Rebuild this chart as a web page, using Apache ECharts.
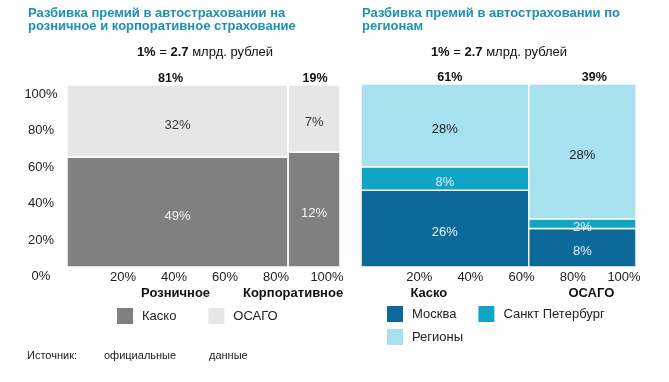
<!DOCTYPE html>
<html><head><meta charset="utf-8">
<script src="https://cdn.jsdelivr.net/npm/echarts@6/dist/echarts.min.js"></script>
<style>html,body{margin:0;padding:0;background:#fff}#c{width:669px;height:382px}</style>
</head><body><div id="c"></div>
<script>
// ---------- DATA ----------
const leftCategories = ['Розничное', 'Корпоративное'];
const leftWidths = [81, 19];
const leftKasko = [49, 12];
const leftOsago = [32, 7];

const rightCategories = ['Каско', 'ОСАГО'];
const rightWidths = [61, 39];
const rightMoscow = [26, 8];
const rightSpb = [8, 2];
const rightRegions = [28, 28];

// ---------- STYLE / LAYOUT ----------
const FONT = "'Liberation Sans', Arial, sans-serif";
const C = {
  kasko: '#808080', osago: '#e6e6e6',
  moscow: '#0b6a99', spb: '#10a5c6', regions: '#a7e1ef',
  title: '#1e90b2'
};
const LAYOUT = {
  left: { catDx: [-2, -21], topDx: [-7, 1] },
  right: { catDx: [-16, 9], topDx: [5, 12] }
};

function buildMekko(widths, stacks) {
  const totalW = widths.reduce((a, b) => a + b, 0);
  const out = stacks.map(() => []);
  let cx = 0;
  widths.forEach((w, i) => {
    const x0 = cx / totalW * 100, x1 = (cx + w) / totalW * 100;
    const colSum = stacks.reduce((a, s) => a + s[i], 0);
    let cy = 0;
    stacks.forEach((s, k) => {
      const y0 = cy / colSum * 100, y1 = (cy + s[i]) / colSum * 100;
      out[k].push([x0, x1, y0, y1, s[i]]);
      cy += s[i];
    });
    cx += w;
  });
  return out;
}
function buildCols(widths) {
  const totalW = widths.reduce((a, b) => a + b, 0);
  let cx = 0;
  return widths.map((w, i) => {
    const r = [cx / totalW * 100, (cx + w) / totalW * 100, w, i];
    cx += w; return r;
  });
}

function rectRender(labelColor) {
  return function (params, api) {
    const p0 = api.coord([api.value(0), api.value(2)]);
    const p1 = api.coord([api.value(1), api.value(3)]);
    const x = p0[0], y = p1[1], w = p1[0] - p0[0], h = p0[1] - p1[1];
    return {
      type: 'group', children: [
        { type: 'rect', shape: { x: x, y: y, width: w, height: h },
          style: { fill: api.visual('color'), stroke: '#ffffff', lineWidth: 1.5 } },
        { type: 'text', x: x + w / 2, y: y + h / 2 + 4,
          style: { text: api.value(4) + '%', fill: labelColor, fontSize: 13, fontFamily: FONT,
                   align: 'center', verticalAlign: 'middle' } }
      ]
    };
  };
}
function colRender(cats, lay) {
  return function (params, api) {
    const i = api.value(3);
    const cx = (api.value(0) + api.value(1)) / 2;
    const top = api.coord([cx, 100]);
    const bot = api.coord([cx, 0]);
    return {
      type: 'group', children: [
        { type: 'text', x: top[0] + lay.topDx[i], y: top[1] - 6,
          style: { text: api.value(2) + '%', fill: '#111', fontSize: 12.5, fontWeight: 'bold', fontFamily: FONT,
                   align: 'center', verticalAlign: 'middle' } },
        { type: 'text', x: bot[0] + lay.catDx[i], y: bot[1] + 26,
          style: { text: cats[i], fill: '#111', fontSize: 13, fontWeight: 'bold', fontFamily: FONT,
                   align: 'center', verticalAlign: 'middle' } }
      ]
    };
  };
}

const L = buildMekko(leftWidths, [leftKasko, leftOsago]);
const R = buildMekko(rightWidths, [rightMoscow, rightSpb, rightRegions]);

const hiddenX = (g) => ({ type: 'value', gridIndex: g, min: 0, max: 100, show: false });
const hiddenY = (g) => ({ type: 'value', gridIndex: g, min: 0, max: 100, show: false });
const labelX = (g) => ({
  type: 'value', gridIndex: g, min: 0, max: 100, interval: 20,
  axisLine: { show: false }, axisTick: { show: false }, splitLine: { show: false },
  axisLabel: { margin: 4, fontSize: 13, color: '#222', fontFamily: FONT,
    formatter: v => (v === 0 ? '' : v + '%') }
});

const encode = { x: [0, 1], y: [2, 3] };
const chart = echarts.init(document.getElementById('c'), null, { renderer: 'canvas' });
chart.setOption({
  animation: false,
  backgroundColor: '#ffffff',
  textStyle: { fontFamily: FONT },
  grid: [
    { left: 67, top: 85, width: 273, height: 182, containLabel: false, outerBoundsMode: 'none' },
    { left: 72, top: 85, width: 255, height: 182, containLabel: false, outerBoundsMode: 'none' },
    { left: 361, top: 84, width: 275, height: 183, containLabel: false, outerBoundsMode: 'none' },
    { left: 368, top: 84, width: 256, height: 183, containLabel: false, outerBoundsMode: 'none' }
  ],
  xAxis: [hiddenX(0), labelX(1), hiddenX(2), labelX(3)],
  yAxis: [
    { type: 'value', gridIndex: 0, min: 0, max: 100, interval: 20,
      axisLine: { show: false }, axisTick: { show: false }, splitLine: { show: false },
      axisLabel: { margin: 26, align: 'center', verticalAlign: 'top', fontSize: 13, color: '#222', fontFamily: FONT,
        padding: [3, 0, 0, 0], formatter: v => v + '%' } },
    hiddenY(1), hiddenY(2), hiddenY(3)
  ],
  legend: [
    { data: ['Каско', 'ОСАГО'], left: 117, top: 308, padding: 0, itemGap: 32, itemWidth: 16, itemHeight: 16,
      icon: 'rect', selectedMode: false, textStyle: { fontSize: 13, color: '#222', fontFamily: FONT, padding: [0, 0, 0, 4] } },
    { data: ['Москва', 'Санкт Петербург'], left: 387, top: 306, padding: 0, itemGap: 22, itemWidth: 16, itemHeight: 16,
      icon: 'rect', selectedMode: false, textStyle: { fontSize: 13, color: '#222', fontFamily: FONT, padding: [0, 0, 0, 4] } },
    { data: ['Регионы'], left: 387, top: 329, padding: 0, itemWidth: 16, itemHeight: 16,
      icon: 'rect', selectedMode: false, textStyle: { fontSize: 13, color: '#222', fontFamily: FONT, padding: [0, 0, 0, 4] } }
  ],
  series: [
    { name: 'Каско', type: 'custom', xAxisIndex: 0, yAxisIndex: 0, itemStyle: { color: C.kasko },
      encode, data: L[0], renderItem: rectRender('#f2f2f2') },
    { name: 'ОСАГО', type: 'custom', xAxisIndex: 0, yAxisIndex: 0, itemStyle: { color: C.osago },
      encode, data: L[1], renderItem: rectRender('#333333') },
    { name: 'leftCols', type: 'custom', xAxisIndex: 0, yAxisIndex: 0, encode: { x: [0, 1] },
      data: buildCols(leftWidths), renderItem: colRender(leftCategories, LAYOUT.left) },
    { name: 'Москва', type: 'custom', xAxisIndex: 2, yAxisIndex: 2, itemStyle: { color: C.moscow },
      encode, data: R[0], renderItem: rectRender('#e6f3f8') },
    { name: 'Санкт Петербург', type: 'custom', xAxisIndex: 2, yAxisIndex: 2, itemStyle: { color: C.spb },
      encode, data: R[1], renderItem: rectRender('#e6f3f8') },
    { name: 'Регионы', type: 'custom', xAxisIndex: 2, yAxisIndex: 2, itemStyle: { color: C.regions },
      encode, data: R[2], renderItem: rectRender('#222222') },
    { name: 'rightCols', type: 'custom', xAxisIndex: 2, yAxisIndex: 2, encode: { x: [0, 1] },
      data: buildCols(rightWidths), renderItem: colRender(rightCategories, LAYOUT.right) }
  ],
  graphic: [
    { type: 'text', left: 28, top: 7, style: { text: 'Разбивка премий в автостраховании на\nрозничное и корпоративное страхование',
        fill: C.title, fontSize: 13, fontWeight: 'bold', fontFamily: FONT, lineHeight: 12.5 } },
    { type: 'text', left: 362, top: 7, style: { text: 'Разбивка премий в автостраховании по\nрегионам',
        fill: C.title, fontSize: 13, fontWeight: 'bold', fontFamily: FONT, lineHeight: 12.5 } },
    { type: 'text', x: 205, y: 52, style: { text: '{b|1%} = {b|2.7} млрд. рублей', align: 'center', verticalAlign: 'middle',
        fill: '#111', fontSize: 13, fontFamily: FONT, rich: { b: { fontWeight: 'bold', fontSize: 13, fontFamily: FONT } } } },
    { type: 'text', x: 499, y: 52, style: { text: '{b|1%} = {b|2.7} млрд. рублей', align: 'center', verticalAlign: 'middle',
        fill: '#111', fontSize: 13, fontFamily: FONT, rich: { b: { fontWeight: 'bold', fontSize: 13, fontFamily: FONT } } } },
    { type: 'text', x: 27, y: 356, style: { text: 'Источник:', verticalAlign: 'middle', fill: '#222', fontSize: 11, fontFamily: FONT } },
    { type: 'text', x: 104, y: 356, style: { text: 'официальные', verticalAlign: 'middle', fill: '#222', fontSize: 11, fontFamily: FONT } },
    { type: 'text', x: 209, y: 356, style: { text: 'данные', verticalAlign: 'middle', fill: '#222', fontSize: 11, fontFamily: FONT } }
  ]
});
</script></body></html>
